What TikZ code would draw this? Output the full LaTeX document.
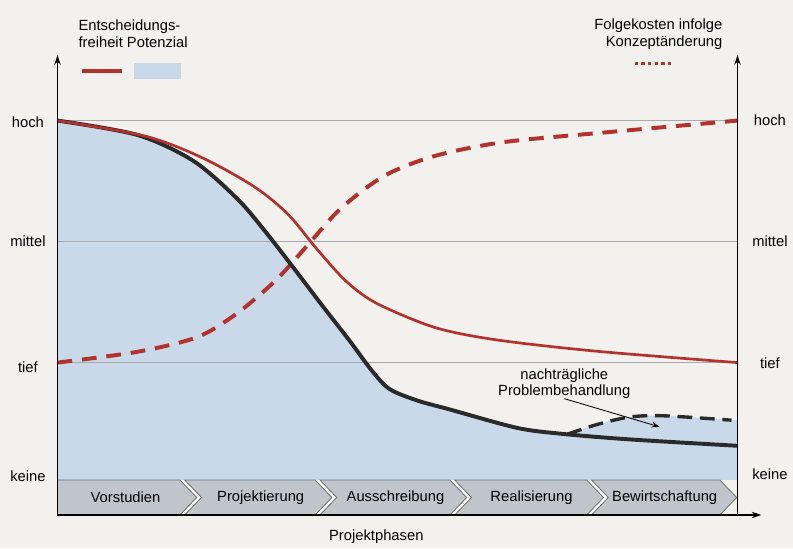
\documentclass[tikz,border=0pt]{standalone}
\usepackage{fontspec}
\setmainfont{Liberation Sans}
\usetikzlibrary{arrows.meta}
\definecolor{papier}{HTML}{F2F1ED}
\definecolor{potblau}{HTML}{C9D9E9}
\definecolor{phasengrau}{HTML}{C0C5CC}
\definecolor{kostenrot}{HTML}{B3322B}
\definecolor{gitterfarbe}{HTML}{A9A9AF}
\definecolor{kurvenschwarz}{HTML}{2A2A2A}
\begin{document}
\begin{tikzpicture}[font=\fontsize{10.5}{11.5}\selectfont,
    achse/.style={line width=0.9pt,-{Stealth[length=7pt,width=4.5pt]}},
    gitter/.style={line width=0.6pt,gitterfarbe},
    phase/.style={fill=phasengrau,draw=black!55,line width=0.6pt},
    freiheit/.style={kostenrot,line width=1.9pt},
    folgekosten/.style={kostenrot,line width=2.8pt,dash pattern=on 10.5pt off 7pt},
    potenzial/.style={kurvenschwarz,line width=2.8pt},
    nachtrag/.style={kurvenschwarz,line width=2.4pt,dash pattern=on 10.5pt off 5.5pt}]
    \fill[papier] (-1.4375,-0.825) rectangle (18.3875,12.875);
    % Potenzial
    \fill[potblau] (0,9.86) plot[smooth] coordinates {(0,9.86) (2.0,9.5) (3.4,8.85) (4.5,7.9) (5.2,7.08) (5.9,6.18) (6.6,5.26) (7.3,4.36) (7.85,3.62) (8.3,3.15) (9.0,2.86) (9.8,2.64) (11.48,2.18) (12.6,2.03) (14.3,1.89) (17,1.73)} -- (17,0.875) -- (0,0.875) -- cycle;
    \fill[potblau] (12.75,2.02) plot[smooth] coordinates {(12.75,2.02) (13.48,2.26) (14.31,2.45) (15.16,2.48) (17,2.37)} -- (17,1.7) -- (12.75,1.9) -- cycle;
    \draw[gitter] (0,9.86)--(17,9.86);
    \draw[gitter] (0,6.85)--(17,6.85);
    \draw[gitter] (0,3.81)--(17,3.81);
    % Projektphasen
    \fill[white] (0,0) rectangle (16.56,0.875);
    \draw[phase] (0,0)--(3.06,0)--(3.48,0.4375)--(3.06,0.875)--(0,0.875)--cycle;
    \draw[phase] (3.18,0)--(6.44,0)--(6.86,0.4375)--(6.44,0.875)--(3.18,0.875)--(3.60,0.4375)--cycle;
    \draw[phase] (6.56,0)--(9.81,0)--(10.23,0.4375)--(9.81,0.875)--(6.56,0.875)--(6.98,0.4375)--cycle;
    \draw[phase] (9.93,0)--(13.23,0)--(13.65,0.4375)--(13.23,0.875)--(9.93,0.875)--(10.35,0.4375)--cycle;
    \draw[phase] (13.35,0)--(16.56,0)--(16.98,0.4375)--(16.56,0.875)--(13.35,0.875)--(13.77,0.4375)--cycle;
    \node (vorst) at (1.70,0.44) {Vorstudien};
    \node (projekt) at (5.08,0.44) {Projektierung};
    \node (aus) at (8.45,0.44) {Ausschreibung};
    \node (real) at (11.85,0.44) {Realisierung};
    \node (bewirt) at (15.18,0.44) {Bewirtschaftung};
    % Kurven
    \draw[folgekosten] plot[smooth] coordinates {(0,3.81) (2.0,4.08) (3.5,4.45) (4.5,5.05) (5.48,5.89) (6.3,6.8) (7.1,7.68) (8.19,8.49) (9.45,8.98) (11.14,9.32) (13.64,9.56) (17,9.86)};
    \draw[potenzial] plot[smooth] coordinates {(0,9.86) (2.0,9.5) (3.4,8.85) (4.5,7.9) (5.2,7.08) (5.9,6.18) (6.6,5.26) (7.3,4.36) (7.85,3.62) (8.3,3.15) (9.0,2.86) (9.8,2.64) (11.48,2.18) (12.6,2.03) (14.3,1.89) (17,1.73)};
    \draw[freiheit] plot[smooth] coordinates {(0,9.86) (2.2,9.47) (3.62,8.93) (4.93,8.20) (5.77,7.51) (6.5,6.63) (7.23,5.83) (8.0,5.28) (9.46,4.68) (11.03,4.37) (13.52,4.09) (17,3.81)};
    \draw[nachtrag] plot[smooth] coordinates {(12.75,2.02) (13.48,2.26) (14.31,2.45) (15.16,2.48) (16.85,2.37)};
    % Achsen
    \coordinate (null) at (0,0);
    \coordinate (ylinks) at (0,11.5);
    \coordinate (rechtsunten) at (17,0);
    \coordinate (yrechts) at (17,11.5);
    \coordinate (xende) at (17.6,0);
    \draw[achse] (null)--(ylinks);
    \draw[achse] (rechtsunten)--(yrechts);
    \draw[achse] (null)--(xende);
    \node (hochl) at (-0.74,9.82) {hoch};
    \node (mittell) at (-0.74,6.84) {mittel};
    \node (tiefl) at (-0.74,3.70) {tief};
    \node (keinel) at (-0.74,0.97) {keine};
    \node (hochr) at (17.81,9.86) {hoch};
    \node (mittelr) at (17.81,6.85) {mittel};
    \node (tiefr) at (17.81,3.80) {tief};
    \node (keiner) at (17.81,1.03) {keine};
    \node (phasen) at (7.97,-0.54) {Projektphasen};
    % Legende
    \node (entsch) at (0.52,12.03) [anchor=west,align=left,inner sep=0pt] {Entscheidungs-\\freiheit Potenzial};
    \draw[kostenrot,line width=2.8pt] (0.6,11.1)--(1.62,11.1);
    \fill[potblau] (1.91,10.89) rectangle (3.09,11.31);
    \node (folge) at (16.63,12.02) [anchor=east,align=right,inner sep=0pt] {Folgekosten infolge\\Konzeptänderung};
    \draw[kostenrot,line width=2.4pt,dash pattern=on 2.4pt off 2.3pt] (14.43,11.29)--(15.36,11.29);
    \node (pb) at (12.67,3.29) [align=center,inner sep=0pt] {nachträgliche\\Problembehandlung};
    \coordinate (pbspitze) at (15.06,2.20);
    \draw[line width=0.6pt,-{Stealth[length=6pt,width=4pt]}] (pb.south)--(pbspitze);
\end{tikzpicture}
\end{document}
